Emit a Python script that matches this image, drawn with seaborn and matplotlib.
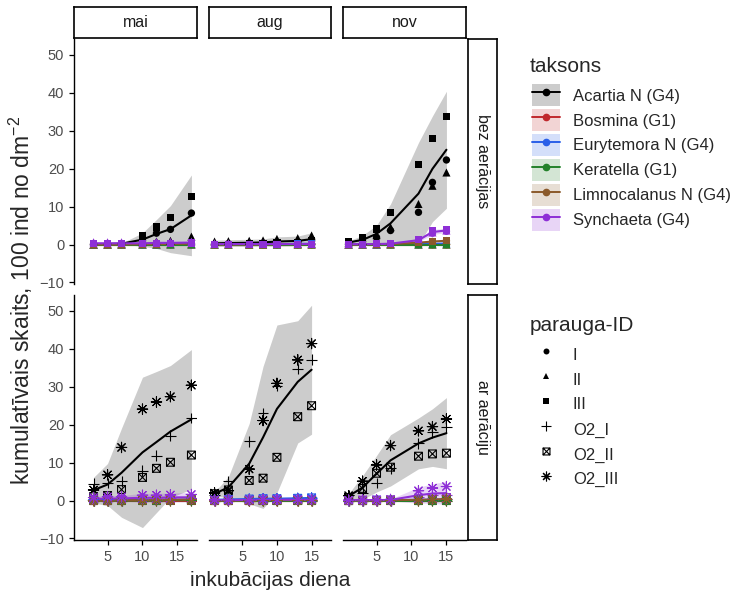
import numpy as np
import pandas as pd
import matplotlib
matplotlib.use('Agg')
import matplotlib.pyplot as plt
import seaborn as sns
from matplotlib.path import Path
from matplotlib.lines import Line2D
from matplotlib.patches import Patch

sns.set_theme(style='ticks')
plt.rcParams['font.family'] = ['Liberation Sans', 'DejaVu Sans']
plt.rcParams['mathtext.fontset'] = 'custom'
plt.rcParams['mathtext.rm'] = 'Liberation Sans'
plt.rcParams['mathtext.it'] = 'Liberation Sans:italic'

# --- dati ---
MONTHS = ['mai', 'aug', 'nov']
TREATMENTS = ['bez aerācijas', 'ar aerāciju']
TAXA = ['Acartia N (G4)', 'Bosmina (G1)', 'Eurytemora N (G4)',
        'Keratella (G1)', 'Limnocalanus N (G4)', 'Synchaeta (G4)']
TAXA_COLORS = ['black', '#c0282c', '#2a5fe8', '#23812a', '#8b5a2b', '#8e2fd6']
IDS_BEZ = ['I', 'II', 'III']
IDS_AR = ['O2_I', 'O2_II', 'O2_III']

DAYS_MAI = [3, 5, 7, 10, 12, 14, 17]
DAYS_AUG = [1, 3, 6, 8, 10, 13, 15]
DAYS_NOV = [1, 3, 5, 7, 11, 13, 15]

# Acartia, rindas = atkārtojumi (I, II, III / O2_I, O2_II, O2_III)
ACARTIA_MAI_BEZ = [[0.0, 0.1, 0.2, 1.0, 3.0, 4.0, 8.3],
                   [0.0, 0.1, 0.2, 0.6, 0.8, 1.0, 2.1],
                   [0.0, 0.2, 0.3, 2.3, 4.6, 7.2, 12.7]]
ACARTIA_AUG_BEZ = [[0.1, 0.2, 0.2, 0.3, 0.4, 0.6, 1.0],
                   [0.8, 0.9, 1.0, 1.1, 1.5, 1.7, 2.4],
                   [0.1, 0.1, 0.2, 0.3, 0.5, 0.6, 0.9]]
ACARTIA_NOV_BEZ = [[0.4, 0.8, 1.9, 3.7, 8.5, 16.4, 22.3],
                   [0.5, 1.0, 2.5, 4.6, 10.7, 15.5, 19.0],
                   [0.8, 1.9, 4.1, 8.5, 21.1, 28.0, 33.7]]
ACARTIA_MAI_AR = [[4.4, 4.6, 5.1, 7.9, 11.8, 17.1, 21.8],
                  [1.0, 1.3, 2.9, 6.1, 8.5, 10.1, 12.0],
                  [2.8, 6.8, 14.0, 24.1, 26.0, 27.4, 30.4]]
ACARTIA_AUG_AR = [[1.5, 5.1, 15.6, 23.0, 30.2, 34.7, 37.1],
                  [1.8, 2.8, 5.3, 5.9, 11.4, 22.1, 25.0],
                  [2.0, 2.6, 8.3, 21.1, 30.9, 37.1, 41.4]]
ACARTIA_NOV_AR = [[1.4, 2.0, 4.6, 8.5, 15.1, 18.0, 19.3],
                  [0.8, 3.2, 7.2, 8.8, 11.7, 12.3, 12.5],
                  [1.3, 5.1, 9.4, 14.5, 18.4, 19.5, 21.5]]

# Synchaeta
SYNCHAETA_MAI_BEZ = [[0.2, 0.2, 0.2, 0.2, 0.3, 0.3, 0.3],
                     [0.6, 0.6, 0.6, 0.6, 0.7, 0.7, 0.8],
                     [0.2, 0.2, 0.2, 0.2, 0.3, 0.3, 0.4]]
SYNCHAETA_AUG_BEZ = [[0.1, 0.1, 0.1, 0.1, 0.1, 0.1, 0.1],
                     [0.3, 0.3, 0.3, 0.3, 0.3, 0.3, 0.3],
                     [0.0, 0.0, 0.0, 0.0, 0.0, 0.0, 0.1]]
SYNCHAETA_NOV_BEZ = [[0.1, 0.1, 0.1, 0.2, 1.0, 3.0, 3.5],
                     [0.1, 0.1, 0.1, 0.2, 1.1, 3.2, 3.7],
                     [0.1, 0.1, 0.2, 0.3, 1.4, 3.7, 4.0]]
SYNCHAETA_MAI_AR = [[0.3, 0.3, 0.4, 0.5, 0.5, 0.6, 0.6],
                    [0.2, 0.2, 0.3, 0.3, 0.3, 0.4, 0.4],
                    [0.8, 1.0, 1.0, 1.4, 1.4, 1.5, 1.6]]
SYNCHAETA_AUG_AR = [[0.1, 0.1, 0.2, 0.2, 0.2, 0.2, 0.2],
                    [0.1, 0.1, 0.1, 0.1, 0.2, 0.2, 0.2],
                    [0.2, 0.2, 0.2, 0.3, 0.3, 0.3, 0.3]]
SYNCHAETA_NOV_AR = [[0.1, 0.1, 0.1, 0.1, 1.0, 1.5, 1.4],
                    [0.1, 0.1, 0.1, 0.1, 0.6, 0.8, 0.8],
                    [0.1, 0.2, 0.2, 0.3, 2.6, 3.3, 3.7]]

# pārējie taksoni (Bosmina, Eurytemora, Keratella, Limnocalanus), vienādi visiem atkārtojumiem
MINOR_MAI_BEZ = [[0.0, 0.0, 0.0, 0.0, 0.0, 0.0, 0.0],
                 [0.0, 0.0, 0.0, 0.0, 0.0, 0.1, 0.1],
                 [0.0, 0.0, 0.0, 0.0, 0.0, 0.0, 0.0],
                 [0.0, 0.0, 0.0, 0.1, 0.1, 0.2, 0.2]]
MINOR_AUG_BEZ = [[0.0, 0.0, 0.0, 0.0, 0.0, 0.0, 0.0],
                 [0.0, 0.0, 0.1, 0.1, 0.1, 0.2, 0.2],
                 [0.0, 0.0, 0.0, 0.0, 0.0, 0.0, 0.0],
                 [0.0, 0.0, 0.0, 0.0, 0.1, 0.1, 0.1]]
MINOR_NOV_BEZ = [[0.0, 0.0, 0.0, 0.0, 0.0, 0.0, 0.0],
                 [0.0, 0.0, 0.0, 0.1, 0.1, 0.2, 0.3],
                 [0.0, 0.0, 0.0, 0.0, 0.0, 0.0, 0.0],
                 [0.0, 0.0, 0.1, 0.1, 0.5, 0.8, 1.0]]
MINOR_MAI_AR = [[0.0, 0.0, 0.0, 0.0, 0.0, 0.0, 0.0],
                [0.1, 0.1, 0.1, 0.2, 0.2, 0.2, 0.3],
                [0.0, 0.0, 0.0, 0.0, 0.0, 0.1, 0.1],
                [0.0, 0.0, 0.1, 0.1, 0.2, 0.2, 0.3]]
MINOR_AUG_AR = [[0.0, 0.0, 0.0, 0.0, 0.0, 0.0, 0.0],
                [0.2, 0.3, 0.4, 0.5, 0.5, 0.6, 0.7],
                [0.0, 0.0, 0.0, 0.0, 0.0, 0.0, 0.0],
                [0.0, 0.0, 0.0, 0.1, 0.1, 0.1, 0.1]]
MINOR_NOV_AR = [[0.0, 0.0, 0.0, 0.0, 0.0, 0.0, 0.0],
                [0.0, 0.0, 0.1, 0.1, 0.2, 0.2, 0.3],
                [0.0, 0.0, 0.0, 0.0, 0.0, 0.0, 0.0],
                [0.0, 0.0, 0.0, 0.1, 0.2, 0.3, 0.4]]

PANELS = [
    ('mai', 'bez aerācijas', DAYS_MAI, ACARTIA_MAI_BEZ, MINOR_MAI_BEZ, SYNCHAETA_MAI_BEZ),
    ('aug', 'bez aerācijas', DAYS_AUG, ACARTIA_AUG_BEZ, MINOR_AUG_BEZ, SYNCHAETA_AUG_BEZ),
    ('nov', 'bez aerācijas', DAYS_NOV, ACARTIA_NOV_BEZ, MINOR_NOV_BEZ, SYNCHAETA_NOV_BEZ),
    ('mai', 'ar aerāciju', DAYS_MAI, ACARTIA_MAI_AR, MINOR_MAI_AR, SYNCHAETA_MAI_AR),
    ('aug', 'ar aerāciju', DAYS_AUG, ACARTIA_AUG_AR, MINOR_AUG_AR, SYNCHAETA_AUG_AR),
    ('nov', 'ar aerāciju', DAYS_NOV, ACARTIA_NOV_AR, MINOR_NOV_AR, SYNCHAETA_NOV_AR),
]

rows = []
for month, treat, days, acartia, minor, synch in PANELS:
    ids = IDS_BEZ if treat == TREATMENTS[0] else IDS_AR
    per_taxon = [acartia] + [[m, m, m] for m in minor] + [synch]
    for taxon, reps in zip(TAXA, per_taxon):
        for pid, vals in zip(ids, reps):
            for d, v in zip(days, vals):
                rows.append((month, treat, taxon, pid, d, v))
df = pd.DataFrame(rows, columns=['menesis', 'aeracija', 'taksons', 'ID', 'diena', 'skaits'])

# --- marķieri ---
SQUARE_CROSS = Path([(-1, -1), (1, -1), (1, 1), (-1, 1), (-1, -1),
                     (-1, -1), (1, 1), (-1, 1), (1, -1)],
                    [Path.MOVETO, Path.LINETO, Path.LINETO, Path.LINETO, Path.CLOSEPOLY,
                     Path.MOVETO, Path.LINETO, Path.MOVETO, Path.LINETO])
MARKERS = {'I': 'o', 'II': '^', 'III': 's', 'O2_I': '+', 'O2_II': SQUARE_CROSS, 'O2_III': (8, 2, 0)}
SIZES = {'I': 28, 'II': 34, 'III': 28, 'O2_I': 60, 'O2_II': 32, 'O2_III': 55}
palette = dict(zip(TAXA, TAXA_COLORS))

# --- izkārtojums pikseļos ---
W, H = 732, 593
COL_X = [(74, 197), (209, 331), (343, 466)]
ROW_Y = [(39, 284), (295, 540)]


def rect(x0, y0, x1, y1):
    return [x0 / W, 1 - y1 / H, (x1 - x0) / W, (y1 - y0) / H]


fig = plt.figure(figsize=(W / 100, H / 100), dpi=100)

for r, treat in enumerate(TREATMENTS):
    for c, month in enumerate(MONTHS):
        ax = fig.add_axes(rect(COL_X[c][0], ROW_Y[r][0], COL_X[c][1], ROW_Y[r][1]))
        sub = df[(df['menesis'] == month) & (df['aeracija'] == treat)]
        sns.lineplot(data=sub, x='diena', y='skaits', hue='taksons', hue_order=TAXA,
                     palette=palette, errorbar=('sd', 2), err_kws={'alpha': 0.2, 'linewidth': 0},
                     linewidth=1.5, legend=False, ax=ax)
        ids = IDS_BEZ if r == 0 else IDS_AR
        for pid in ids:
            d = sub[sub['ID'] == pid]
            filled = pid in IDS_BEZ
            sns.scatterplot(data=d, x='diena', y='skaits', hue='taksons', hue_order=TAXA,
                            palette=palette, marker=MARKERS[pid], s=SIZES[pid],
                            linewidth=0 if filled else 0.8, legend=False, ax=ax, zorder=3)
            if pid == 'O2_II':
                coll = ax.collections[-1]
                coll.set_edgecolors(coll.get_facecolors())
                coll.set_facecolors('none')
        ax.set_xlim(0.2, 17.8)
        ax.set_ylim(-10.4, 54.2)
        ax.set_xticks([5, 10, 15])
        ax.set_yticks(range(-10, 51, 10))
        ax.set_xlabel('')
        ax.set_ylabel('')
        for side in ['top', 'right']:
            ax.spines[side].set_visible(False)
        ax.spines['left'].set_visible(c == 0)
        ax.spines['bottom'].set_visible(r == 1)
        for sp in ax.spines.values():
            sp.set_color('black')
            sp.set_linewidth(1.0)
        ax.tick_params(axis='both', direction='out', length=3.5, width=0.9, color='black',
                       labelsize=10.5, labelcolor='#4d4d4d', pad=3.5)
        ax.tick_params(axis='y', left=(c == 0), labelleft=(c == 0))
        ax.tick_params(axis='x', bottom=(r == 1), labelbottom=(r == 1))

# joslas ar fasešu nosaukumiem
for c, month in enumerate(MONTHS):
    sax = fig.add_axes(rect(COL_X[c][0], 7, COL_X[c][1], 38))
    sax.set_xticks([])
    sax.set_yticks([])
    for sp in sax.spines.values():
        sp.set_color('black')
        sp.set_linewidth(1.2)
    sax.text(0.5, 0.5, month, ha='center', va='center', fontsize=11.5, color='#1a1a1a',
             transform=sax.transAxes)
for r, treat in enumerate(TREATMENTS):
    sax = fig.add_axes(rect(468, ROW_Y[r][0], 497, ROW_Y[r][1]))
    sax.set_xticks([])
    sax.set_yticks([])
    for sp in sax.spines.values():
        sp.set_color('black')
        sp.set_linewidth(1.2)
    sax.text(0.5, 0.5, treat, ha='center', va='center', fontsize=11.5, color='#1a1a1a',
             rotation=270, transform=sax.transAxes)

fig.text(21 / W, 1 - 300 / H, 'kumulatīvais skaits, 100 ind no dm$^{-2}$', rotation=90,
         ha='center', va='center', fontsize=16.5)
fig.text(270 / W, 1 - 580 / H, 'inkubācijas diena', ha='center', va='center', fontsize=15)

# leģendas
taxa_handles = [(Patch(facecolor=col, alpha=0.2, edgecolor='none'),
                 Line2D([], [], color=col, lw=1.4, marker='o', markersize=4.5))
                for col in TAXA_COLORS]
fig.text(530 / W, 1 - 72 / H, 'taksons', ha='left', va='baseline', fontsize=15)
fig.legend(taxa_handles, TAXA, loc='upper left', bbox_to_anchor=(532 / W, 1 - 84 / H),
           frameon=False, fontsize=12, handlelength=1.68, handleheight=1.68,
           labelspacing=0.16, handletextpad=0.78, borderpad=0, borderaxespad=0)

LEG_SIZES = {'I': 4.3, 'II': 5.0, 'III': 4.3, 'O2_I': 7.0, 'O2_II': 5.0, 'O2_III': 7.0}
shape_handles = []
for pid in IDS_BEZ + IDS_AR:
    if pid == 'O2_II':
        h = Line2D([], [], ls='none', color='black', marker=SQUARE_CROSS,
                   markerfacecolor='none', markersize=LEG_SIZES[pid], mew=0.8)
    else:
        h = Line2D([], [], ls='none', color='black', marker=MARKERS[pid],
                   markersize=LEG_SIZES[pid], mew=0.8 if pid in IDS_AR else 0)
    shape_handles.append(h)
fig.text(530 / W, 1 - 331 / H, 'parauga-ID', ha='left', va='baseline', fontsize=15)
fig.legend(shape_handles, IDS_BEZ + IDS_AR, loc='upper left',
           bbox_to_anchor=(532 / W, 1 - 343 / H), frameon=False, fontsize=12,
           handlelength=1.68, handleheight=1.68, labelspacing=0.16, handletextpad=0.78,
           borderpad=0, borderaxespad=0)

fig.savefig('out.png', dpi=100)
